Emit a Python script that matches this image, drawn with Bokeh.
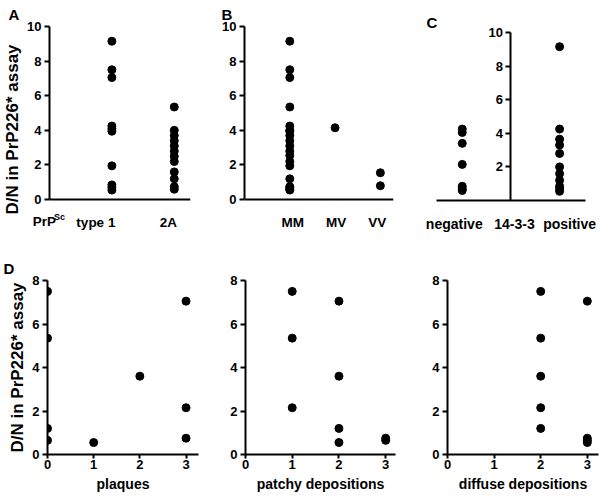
from bokeh.plotting import figure
from bokeh.layouts import column, row
from bokeh.models import Range1d, FixedTicker, Label
from bokeh.embed import file_html
from bokeh.resources import INLINE

FONT = "Liberation Sans"

# ---------------- data ----------------
top_y_ticks = [0, 2, 4, 6, 8, 10]
c_y_ticks = [2, 4, 6, 8, 10]
d_y_ticks = [0, 2, 4, 6, 8]
d_x_ticks = [0, 1, 2, 3]

a_prefix = "PrP"
a_prefix_sup = "Sc"
a_categories = ["type 1", "2A"]
a_type1 = [9.15, 7.5, 7.05, 4.25, 4.1, 3.95, 1.95, 0.85, 0.7, 0.55]
a_type2a = [5.35, 4.0, 3.7, 3.4, 3.1, 2.8, 2.5, 2.2, 1.6, 1.2, 0.75, 0.6]

b_categories = ["MM", "MV", "VV"]
b_mm = [9.15, 7.5, 7.05, 5.35, 4.25, 4.0, 3.95, 3.7, 3.4, 3.1, 2.8, 2.55,
        2.2, 1.95, 1.2, 0.75, 0.7, 0.6, 0.55]
b_mv = [4.15]
b_vv = [1.55, 0.8]

c_categories = ["negative", "14-3-3", "positive"]
c_negative = [4.25, 4.05, 3.4, 2.15, 0.85, 0.7, 0.6]
c_positive = [9.15, 4.25, 3.65, 3.3, 2.8, 2.0, 1.6, 1.2, 0.85, 0.7, 0.55]

d_values = [7.5, 5.35, 1.2, 0.65, 0.55, 3.6, 7.05, 2.15, 0.75]
plaques_score = [0, 0, 0, 0, 1, 2, 3, 3, 3]
patchy_score = [1, 1, 2, 3, 2, 2, 2, 1, 3]
diffuse_score = [2, 2, 2, 3, 3, 2, 3, 2, 3]

y_title = "D/N in PrP226* assay"


# ---------------- helpers ----------------
def make_fig(w, h, xr, yr, left, right, top, bottom):
    p = figure(width=w, height=h, x_range=Range1d(*xr), y_range=Range1d(*yr),
               output_backend="svg", toolbar_location=None,
               min_border_left=left, min_border_right=right,
               min_border_top=top, min_border_bottom=bottom)
    p.grid.visible = False
    p.outline_line_color = None
    for ax in p.axis:
        ax.axis_line_width = 2
        ax.axis_line_color = "black"
        ax.major_tick_line_width = 2
        ax.major_tick_line_color = "black"
        ax.minor_tick_line_color = None
        ax.major_tick_in = 0
        ax.major_tick_out = 5
        ax.major_label_text_font = FONT
        ax.major_label_text_font_style = "bold"
        ax.major_label_text_font_size = "13px"
        ax.major_label_text_color = "black"
        ax.axis_label_text_font = FONT
        ax.axis_label_text_font_style = "bold"
        ax.axis_label_text_color = "black"
    p.yaxis.major_label_standoff = 3
    return p


def letter(p, text, offset, standoff=7):
    p.title.text = text
    p.title.align = "left"
    p.title.offset = offset
    p.title.standoff = standoff
    p.title.text_font = FONT
    p.title.text_font_style = "bold"
    p.title.text_font_size = "15px"
    p.title.text_color = "black"


def dots(p, xs, ys):
    p.scatter(xs, ys, size=8, marker="circle", fill_color="black",
              line_color="black")


LAB_KW = dict(text_font=FONT, text_font_style="bold", text_color="black",
              text_baseline="alphabetic")


def cat_label(p, x, text, dx, dy=-23, size="13.5px", align="center"):
    p.add_layout(Label(x=x, y=0, x_offset=dx, y_offset=dy, text=text,
                       text_align=align, text_font_size=size, **LAB_KW))


def y_title_on(p):
    p.yaxis.axis_label = y_title
    p.yaxis.axis_label_text_font_size = "17px"
    p.yaxis.axis_label_standoff = 2


TOP_H = 248
BOT_H = 248
# room below the zero line (inside the frame) for the category texts
LOW = -1.9


def top_fig(xr, left, right, y_top=10, top=25):
    p = make_fig(200, TOP_H, xr, (LOW, y_top), left, right, top, 16)
    p.yaxis.bounds = (0, 10)
    p.xaxis.ticker = FixedTicker(ticks=[])
    p.xaxis.major_tick_out = 0
    p.xaxis.fixed_location = 0
    return p


# ---------------- panel A ----------------
pa = top_fig((0, 2.26), 44, 10)
pa.yaxis.ticker = FixedTicker(ticks=top_y_ticks)
y_title_on(pa)
dots(pa, [1] * len(a_type1) + [2] * len(a_type2a), a_type1 + a_type2a)
cat_label(pa, 1, a_categories[0], 3.5, align="right")
cat_label(pa, 1, a_prefix_sup, -58, dy=-17, size="9px", align="left")
cat_label(pa, 2, a_categories[1], -6)
# the prefix reaches left of the frame: place it in the side panel below
pa.add_layout(Label(x=6.5, y=0, x_units="screen", y_units="screen",
                    y_offset=26, text=a_prefix, text_align="right",
                    text_font_size="13.5px", **LAB_KW), "below")
letter(pa, "A", -41)

# ---------------- panel B ----------------
pb = top_fig((0, 3.29), 44, 7)
pb.yaxis.ticker = FixedTicker(ticks=top_y_ticks)
dots(pb, [1] * len(b_mm) + [2] * len(b_mv) + [3] * len(b_vv), b_mm + b_mv + b_vv)
cat_label(pb, 1, b_categories[0], 3)
cat_label(pb, 2, b_categories[1], 1)
cat_label(pb, 3, b_categories[2], -3)
letter(pb, "B", -23)

# ---------------- panel C ----------------
pc = top_fig((0.224, 3.82), 24, 1, y_top=10.35, top=19)
pc.title.visible = False
pc.xaxis.bounds = (0.47, 3.53)
pc.yaxis.ticker = FixedTicker(ticks=c_y_ticks)
pc.yaxis.fixed_location = 2
dots(pc, [1] * len(c_negative) + [3] * len(c_positive), c_negative + c_positive)
cat_label(pc, 1, c_categories[0], -8, size="14px")
cat_label(pc, 2, c_categories[1], 3.5, size="14px")
cat_label(pc, 3, c_categories[2], 10, size="14px")
pc.add_layout(Label(x=2, y=0, x_units="screen", y_units="screen",
                    y_offset=4, text="C", text_align="left",
                    text_font_size="15px", **LAB_KW), "above")


# ---------------- panel D ----------------
def d_fig(w, left, right, xr, score, title):
    p = make_fig(w, BOT_H, xr, (0, 8), left, right, 32, 42)
    p.yaxis.ticker = FixedTicker(ticks=d_y_ticks)
    p.xaxis.ticker = FixedTicker(ticks=d_x_ticks)
    p.xaxis.major_tick_out = 4
    p.xaxis.major_label_standoff = 1
    p.xaxis.axis_label = title
    p.xaxis.axis_label_text_font_size = "14px"
    p.xaxis.axis_label_standoff = 4
    dots(p, score, d_values)
    return p


pd1 = d_fig(200, 47, 2, (0, 3.27), plaques_score, "plaques")
y_title_on(pd1)
letter(pd1, "D", -44)

pd2 = d_fig(200, 45, 5, (0, 3.21), patchy_score, "patchy depositions")
pd3 = d_fig(200, 47, 2, (0, 3.24), diffuse_score, "diffuse depositions")

layout = column(row(pa, pb, pc), row(pd1, pd2, pd3))

with open("out.html", "w") as f:
    f.write(file_html(layout, INLINE))
